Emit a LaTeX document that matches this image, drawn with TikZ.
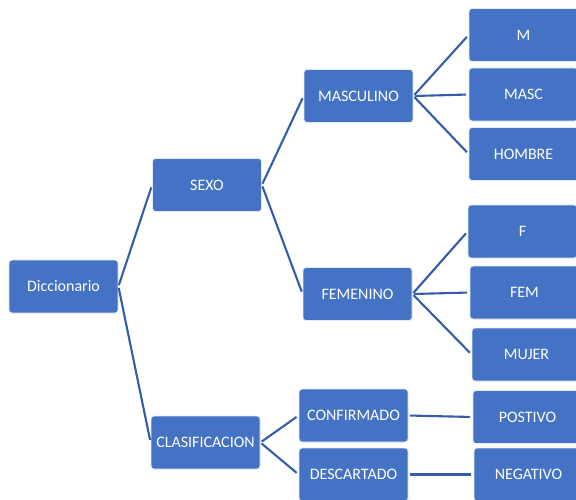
\documentclass[tikz,border=0pt]{standalone}
\usepackage{fontspec}
\setmainfont{Carlito}
\usepackage{xcolor}
\definecolor{boxblue}{RGB}{68,114,196}
\definecolor{linkblue}{RGB}{52,92,170}
\usepackage{tikz}
\usetikzlibrary{positioning}

\begin{document}
\begin{tikzpicture}[
  x=1pt, y=-1pt,
  font=\fontsize{16}{19}\selectfont,
  box/.style={rectangle, rounded corners=3pt, fill=boxblue, draw=white!85!boxblue,
              line width=0.8pt, minimum width=109pt, minimum height=53pt,
              text=white, inner sep=0pt, align=center},
  con/.style={line width=2.1pt, color=linkblue, shorten <=1.5pt, shorten >=2.5pt}
]
\clip (0,0) rectangle (576,499);

%% Root
\node[box] (dic) at (63.5, 286.5) {Diccionario};

%% Second level
\node[box] (sexo) at (207, 185) {SEXO};
\node[box] (clas) at (205.5, 442.5) {CLASIFICACION};

%% Third level
\node[box] (masc) at (358.5, 96) {MASCULINO};
\node[box] (fem) at (357.5, 294) {FEMENINO};
\node[box] (conf) at (353.5, 415.5) {CONFIRMADO};
\node[box] (desc) at (353.5, 474.5) {DESCARTADO};

%% Leaves
\node[box] (m) at (523.5, 35) {M};
\node[box] (mascb) at (523.5, 94.5) {MASC};
\node[box] (hombre) at (523.5, 154) {HOMBRE};
\node[box] (f) at (522.5, 231.5) {F};
\node[box] (femb) at (524.5, 292.5) {FEM};
\node[box] (mujer) at (526.5, 354.5) {MUJER};
\node[box] (pos) at (527.5, 417) {POSTIVO};
\node[box] (neg) at (528.5, 474.5) {NEGATIVO};

%% Connectors
\draw[con] (dic.east) -- (sexo.west);
\draw[con] (dic.east) -- (clas.west);
\draw[con] (sexo.east) -- (masc.west);
\draw[con] (sexo.east) -- (fem.west);
\draw[con] (masc.east) -- (m.west);
\draw[con] (masc.east) -- (mascb.west);
\draw[con] (masc.east) -- (hombre.west);
\draw[con] (fem.east) -- (f.west);
\draw[con] (fem.east) -- (femb.west);
\draw[con] (fem.east) -- (mujer.west);
\draw[con] (clas.east) -- (conf.west);
\draw[con] (clas.east) -- (desc.west);
\draw[con] (conf.east) -- (pos.west);
\draw[con] (desc.east) -- (neg.west);

\end{tikzpicture}
\end{document}
